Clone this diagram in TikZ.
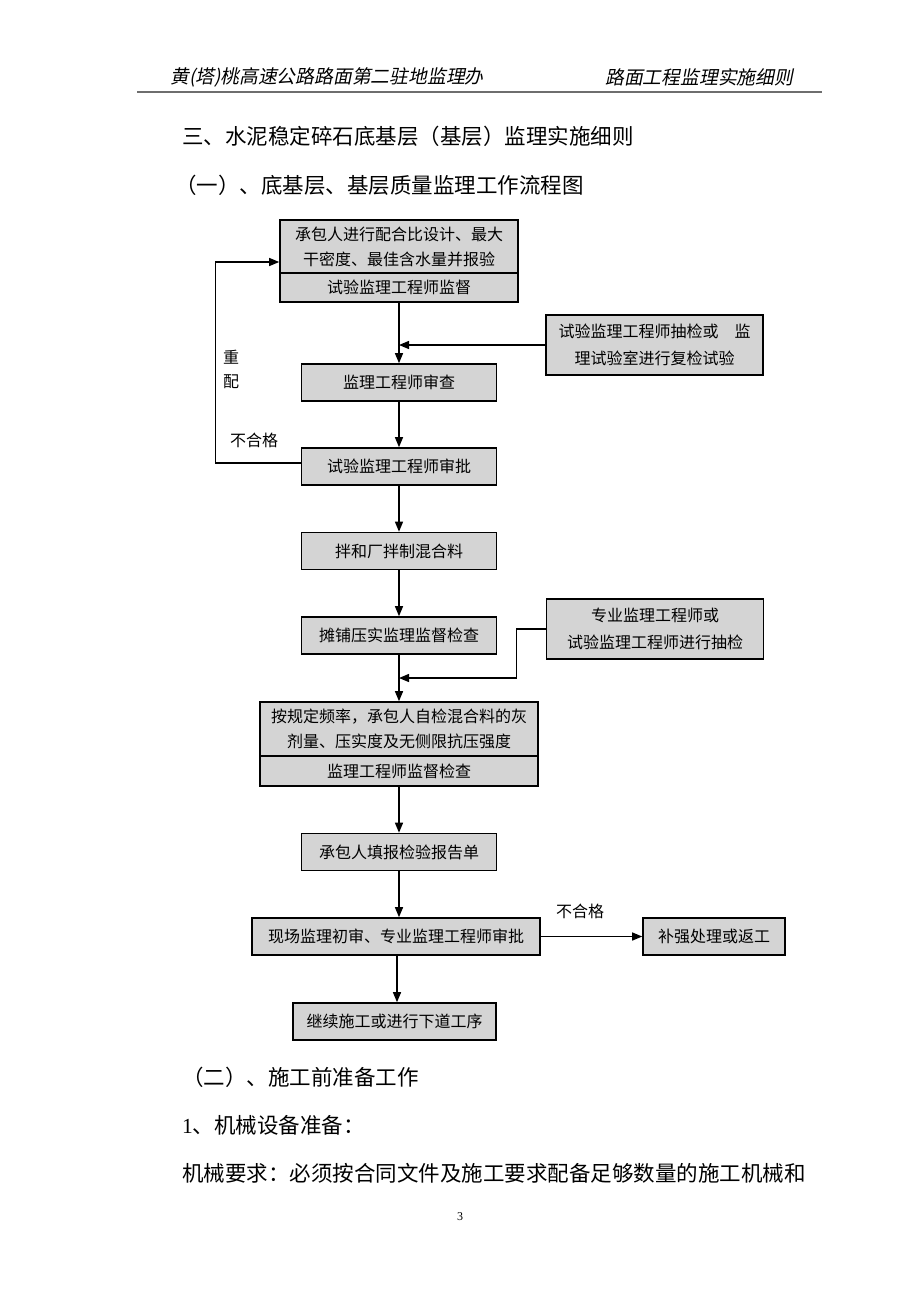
\documentclass[tikz,border=0pt]{standalone}
\usepackage{fontspec}
\setmainfont{Liberation Serif}
\newfontfamily\cjk{Noto Sans CJK SC}
\newfontfamily\cjkit[FakeSlant=0.2]{Noto Sans CJK SC}
\usetikzlibrary{arrows.meta}
\definecolor{boxfill}{RGB}{212,212,212}
\definecolor{hdrline}{RGB}{110,110,110}
\begin{document}
\begin{tikzpicture}[x=1pt,y=-1pt,
  box/.style={draw=black,line width=1.6pt,fill=boxfill,inner sep=0pt,align=center,font=\cjk\fontsize{16}{25}\selectfont},
  arr/.style={line width=1.3pt,-{Triangle[length=10pt,width=8pt]}},
  lbl/.style={inner sep=0pt,font=\cjk\fontsize{16}{20}\selectfont},
  body/.style={inner sep=0pt,anchor=west,font=\cjk\fontsize{21.5}{26}\selectfont},
  hdr/.style={inner sep=0pt,font=\cjkit\fontsize{18.8}{22}\selectfont}]
\useasboundingbox[fill=white] (0,0) rectangle (920,1302);

% header
\node[hdr,anchor=west] (h1) at (170,77) {黄(塔)桃高速公路路面第二驻地监理办};
\node[hdr,anchor=west] (h2) at (605,77) {路面工程监理实施细则};
\draw[hdrline,line width=2.5pt] (137,92) -- (822,92);

% titles
\node[body] (t1) at (182,136) {三、水泥稳定碎石底基层（基层）监理实施细则};
\node[body] (t2) at (175,185) {（一）、底基层、基层质量监理工作流程图};

% boxes
\node[box,minimum width=238pt,minimum height=53pt] (B1a) at (399,246.5) {承包人进行配合比设计、最大\\干密度、最佳含水量并报验};
\node[box,minimum width=238pt,minimum height=29pt] (B1b) at (399,287.5) {试验监理工程师监督};
\node[box,minimum width=195pt,minimum height=37pt] (B2) at (399,382.5) {监理工程师审查};
\node[box,minimum width=217pt,minimum height=60pt] (S1) at (654.5,345) {试验监理工程师抽检或\hspace{16pt}监\\[2pt]理试验室进行复检试验};
\node[box,minimum width=195pt,minimum height=37pt] (B3) at (399,466.5) {试验监理工程师审批};
\node[box,minimum width=195pt,minimum height=37pt] (B4) at (399,551) {拌和厂拌制混合料};
\node[box,minimum width=195pt,minimum height=37pt] (B5) at (399,635.5) {摊铺压实监理监督检查};
\node[box,minimum width=217pt,minimum height=60pt] (S2) at (655,629) {专业监理工程师或\\[2pt]试验监理工程师进行抽检};
\node[box,minimum width=278pt,minimum height=54pt] (B6a) at (399,729) {按规定频率，承包人自检混合料的灰\\剂量、压实度及无侧限抗压强度};
\node[box,minimum width=278pt,minimum height=30pt] (B6b) at (399,771) {监理工程师监督检查};
\node[box,minimum width=195pt,minimum height=37pt] (B7) at (399,852) {承包人填报检验报告单};
\node[box,minimum width=288pt,minimum height=37pt] (B8) at (396,936.5) {现场监理初审、专业监理工程师审批};
\node[box,minimum width=142pt,minimum height=37pt] (R) at (714,936.5) {补强处理或返工};
\node[box,minimum width=203pt,minimum height=37pt] (B9) at (394.5,1021.5) {继续施工或进行下道工序};

% connectors
\draw[arr] (B1b.south) -- (B2.north);
\draw[arr] (S1.west) -- (S1.west -| B2.north);
\draw[arr] (B2.south) -- (B3.north);
\draw[arr] (B3.south) -- (B4.north);
\draw[arr] (B4.south) -- (B5.north);
\draw[arr] (B5.south) -- (B6a.north);
\coordinate (j2) at (399,678);
\draw[arr] (S2.west) -- ++(-29,0) |- (j2);
\draw[arr] (B6b.south) -- (B7.north);
\draw[arr] (B7.south) -- (B7.south |- B8.north);
\draw[arr] (B8.east) -- (R.west);
\draw[arr] ([xshift=1pt]B8.south) -- ([xshift=1pt]B8.south |- B9.north);
\draw[arr] ([yshift=3.5pt]B3.west) -- ++(-85,0) |- ([yshift=-15.5pt]B1a.west);

% labels
\node[lbl] (l1) at (231,357) {重};
\node[lbl] (l2) at (231,382) {配};
\node[lbl] (l3) at (254,440) {不合格};
\node[lbl] (l4) at (580,911) {不合格};

% body text
\node[body] (p1) at (182,1077) {（二）、施工前准备工作};
\node[body] (p2) at (182,1125) {\fontspec{Liberation Serif}1\cjk 、机械设备准备：};
\node[body] (p3) at (182,1173) {机械要求：必须按合同文件及施工要求配备足够数量的施工机械和};
\node[inner sep=0pt,font=\fontsize{12}{14}\selectfont] (pg) at (460,1217) {3};
\end{tikzpicture}
\end{document}
